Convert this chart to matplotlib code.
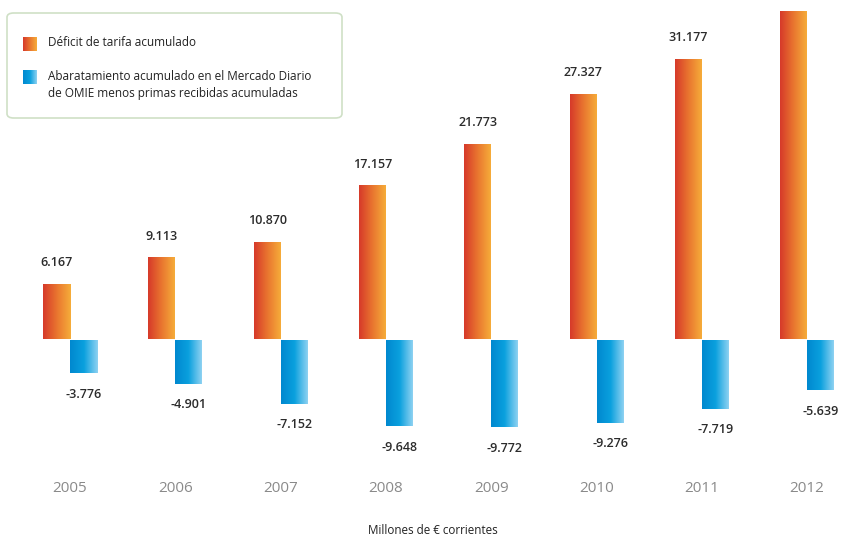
import matplotlib
matplotlib.use("Agg")
import matplotlib.pyplot as plt
import numpy as np
from matplotlib.colors import LinearSegmentedColormap
from matplotlib.patches import FancyBboxPatch, Rectangle

years = ["2005", "2006", "2007", "2008", "2009", "2010", "2011", "2012"]
deficit = [6167, 9113, 10870, 17157, 21773, 27327, 31177, 36500]
deficit_labels = ["6.167", "9.113", "10.870", "17.157", "21.773", "27.327", "31.177", None]
abaratamiento = [-3776, -4901, -7152, -9648, -9772, -9276, -7719, -5639]
abaratamiento_labels = ["-3.776", "-4.901", "-7.152", "-9.648", "-9.772", "-9.276", "-7.719", "-5.639"]

serie_deficit = ["Déficit de tarifa acumulado"]
serie_abaratamiento = ["Abaratamiento acumulado en el Mercado Diario",
                       "de OMIE menos primas recibidas acumuladas"]
unidades = "Millones de € corrientes"

plt.rcParams["font.family"] = ["Open Sans", "DejaVu Sans"]

orange_cmap = LinearSegmentedColormap.from_list("naranja", ["#d6392a", "#e9752f", "#f6ad3a"])
blue_cmap = LinearSegmentedColormap.from_list("azul", ["#0088cf", "#0aa0de", "#8fd2f2"])

W, H = 841, 539
fig = plt.figure(figsize=(W / 100, H / 100), dpi=100)
ax = fig.add_axes([0, 0, 1, 1])

# pixel-ish scale: one year = 105.3 px, 0.009 px per million
px_per_year = 105.3
px_per_unit = 0.009
x0_px, zero_px = 70, 339.5
ax.axis("off")

bw = 27 / px_per_year
grad = np.linspace(0, 1, 256).reshape(1, -1)


def gradient_bar(x, width, height, cmap):
    y0, y1 = (0, height) if height >= 0 else (height, 0)
    rect = Rectangle((x, y0), width, y1 - y0, facecolor="none", edgecolor="none")
    ax.add_patch(rect)
    im = ax.imshow(grad, cmap=cmap, aspect="auto", extent=(x, x + width, y0, y1),
                   interpolation="bilinear", zorder=2)
    im.set_clip_path(rect)


pos = np.arange(len(years))
for i, (d, a) in enumerate(zip(deficit, abaratamiento)):
    gradient_bar(pos[i] - bw, bw, d, orange_cmap)
    gradient_bar(pos[i], bw, a, blue_cmap)
    if deficit_labels[i]:
        ax.text(pos[i] - bw / 2, d + 21 / px_per_unit, deficit_labels[i], ha="center",
                va="center", fontsize=9, color="#2b2b2b", fontweight="semibold")
    ax.text(pos[i] + bw / 2, a - 21 / px_per_unit, abaratamiento_labels[i], ha="center",
            va="center", fontsize=9, color="#2b2b2b", fontweight="semibold")
    ax.text(pos[i], -(488 - zero_px) / px_per_unit, years[i], ha="center", va="center",
            fontsize=11, color="#8a8a8a")

ax.set_xlim(-x0_px / px_per_year, (W - x0_px) / px_per_year)
ax.set_ylim(-(H - zero_px) / px_per_unit, zero_px / px_per_unit)

fig.text(433 / W, 1 - 531 / H, unidades, ha="center", va="center", fontsize=8.4, color="#222222")

# legend box
box = FancyBboxPatch((7 / W, 1 - 118 / H), 335 / W, 105 / H, transform=fig.transFigure,
                     boxstyle="round,pad=0,rounding_size=0.008", facecolor="white",
                     edgecolor="#cfe0c6", linewidth=1.2, zorder=5)
fig.patches.append(box)

for cmap, ytop, lines in [(orange_cmap, 37, serie_deficit), (blue_cmap, 70, serie_abaratamiento)]:
    lax = fig.add_axes([23 / W, 1 - (ytop + 14) / H, 14 / W, 14 / H], zorder=6)
    lax.imshow(grad, cmap=cmap, aspect="auto", interpolation="bilinear")
    lax.axis("off")
    for k, line in enumerate(lines):
        yc = ytop + 6 + 17 * k
        fig.text(48 / W, 1 - yc / H, line, ha="left", va="center",
                 fontsize=8.5, color="#222222", zorder=7)

fig.savefig("out.png", dpi=100)
